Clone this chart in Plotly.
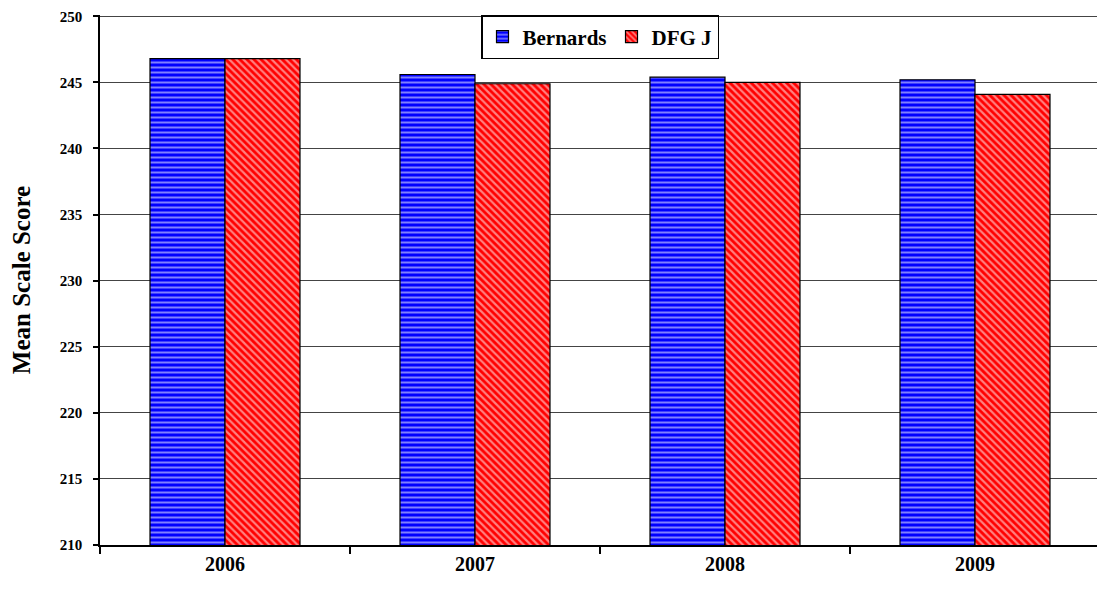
import plotly.graph_objects as go

years = ["2006", "2007", "2008", "2009"]
bernards = [246.8, 245.6, 245.4, 245.2]
dfg_j = [246.8, 244.9, 245.0, 244.1]
y_ticks = [210, 215, 220, 225, 230, 235, 240, 245, 250]

font_family = "Liberation Serif"

fig = go.Figure()
fig.add_trace(go.Bar(
    x=years, y=bernards, name="<b>Bernards</b>",
    marker=dict(color="#0000FF", line=dict(color="black", width=1.2),
                pattern=dict(shape="-", fgcolor="white", bgcolor="#0000FF",
                             size=5, solidity=0.4)),
))
fig.add_trace(go.Bar(
    x=years, y=dfg_j, name="<b>DFG J</b>",
    marker=dict(color="#FF0000", line=dict(color="black", width=1.2),
                pattern=dict(shape="\\", fgcolor="white", bgcolor="#FF0000",
                             size=5, solidity=0.45)),
))

fig.update_layout(
    width=1097, height=590,
    margin=dict(l=92, r=5, t=7, b=53),
    paper_bgcolor="white", plot_bgcolor="white",
    barmode="group", bargap=0.4, bargroupgap=0,
    font=dict(family=font_family, color="black"),
    legend=dict(orientation="h", x=0.5, xanchor="center", y=1.0, yanchor="top",
                bgcolor="white", bordercolor="black", borderwidth=1.5,
                font=dict(size=21, family=font_family), itemwidth=30,
                traceorder="normal"),
    showlegend=True,
)
fig.update_xaxes(
    type="category", showline=True, linecolor="black", linewidth=1.5,
    ticks="outside", tickson="boundaries", ticklen=7, tickcolor="black", tickwidth=1.5,
    tickfont=dict(size=20, family=font_family), tickprefix="<b>", ticksuffix="</b>",
    showgrid=False,
)
fig.update_yaxes(
    range=[210, 250.1], tickvals=y_ticks,
    ticktext=["<b>%d</b>" % v for v in y_ticks],
    showline=True, linecolor="black", linewidth=1.5,
    ticks="outside", ticklen=5, tickcolor="black", tickwidth=1.5,
    ticklabelstandoff=8, ticklabeloverflow="allow", automargin="left+right",
    tickfont=dict(size=15, family=font_family),
    showgrid=True, gridcolor="#444444", gridwidth=1,
    title=dict(text="<b>Mean Scale Score</b>", font=dict(size=25, family=font_family), standoff=22),
    zeroline=False,
)

fig.write_html("out.html")
